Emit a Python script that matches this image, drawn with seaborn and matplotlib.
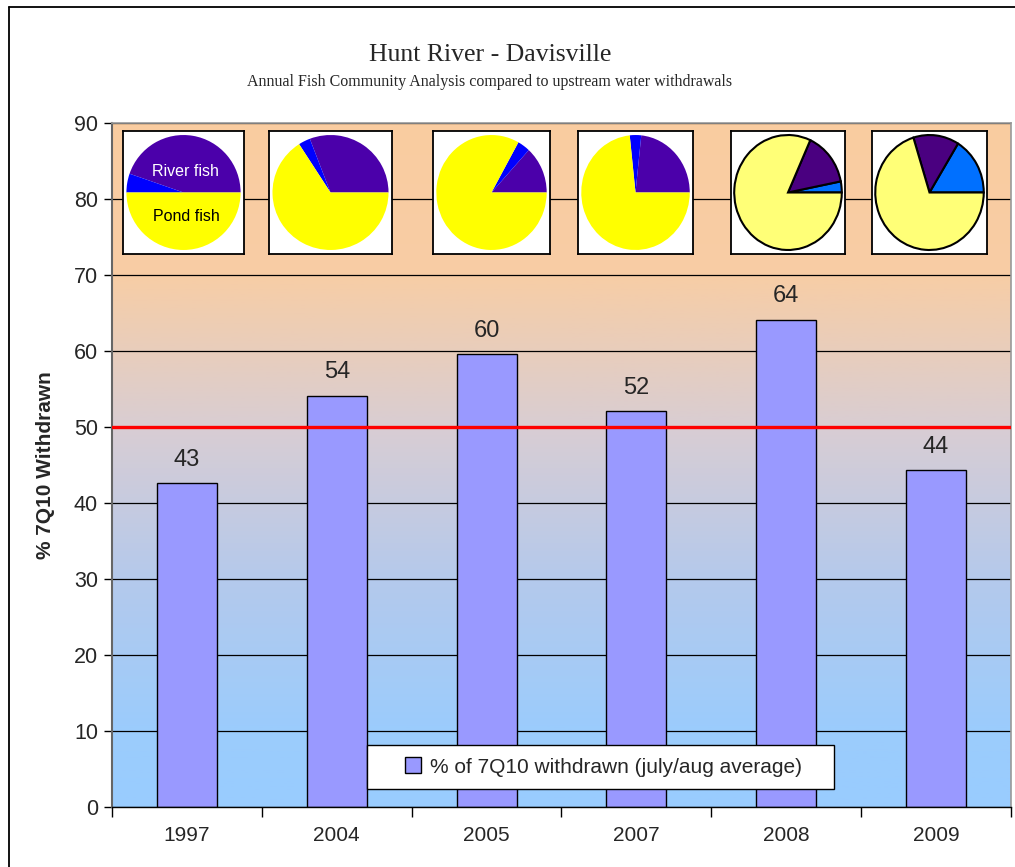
import numpy as np
import pandas as pd
import matplotlib
matplotlib.use('Agg')
import matplotlib.pyplot as plt
from matplotlib.colors import LinearSegmentedColormap
from matplotlib.lines import Line2D
from matplotlib.patches import Rectangle
import seaborn as sns

sns.set_style('white')
plt.rcParams['font.family'] = ['Liberation Sans', 'DejaVu Sans']

# bar data
years = ['1997', '2004', '2005', '2007', '2008', '2009']
withdrawn = [42.6, 54.1, 59.6, 52.1, 64.1, 44.3]
threshold = 50

# pie shares (percent): river fish, other, pond fish
river_share = [44.7, 30.8, 13.2, 23.3, 15.1, 13.6]
other_share = [5.3, 3.3, 3.7, 3.4, 3.1, 16.2]
pond_share = [50.0, 65.9, 83.1, 73.3, 81.8, 70.2]
other_first = [False, False, False, False, True, True]   # 2008/2009 pies start with the blue slice

df = pd.DataFrame({'Year': years, 'Withdrawn': withdrawn})

W, H = 1015, 867
fig = plt.figure(figsize=(W / 100, H / 100), dpi=100)
ax = fig.add_axes([112 / W, 1 - 807 / H, 899 / W, 684 / H])

# background gradient peach -> blue
grad = LinearSegmentedColormap.from_list('bg', [
    (0.0, (153 / 255, 204 / 255, 255 / 255)),
    (0.12, (156 / 255, 204 / 255, 252 / 255)),
    (0.33, (180 / 255, 201 / 255, 236 / 255)),
    (0.55, (216 / 255, 205 / 255, 212 / 255)),
    (0.78, (248 / 255, 205 / 255, 165 / 255)),
    (1.0, (250 / 255, 204 / 255, 160 / 255)),
])
ax.imshow(np.linspace(0, 1, 256).reshape(-1, 1), cmap=grad, origin='lower',
          extent=[-0.5, 5.5, 0, 90], aspect='auto', zorder=0)

sns.barplot(data=df, x='Year', y='Withdrawn', color='#9999FF', saturation=1,
            width=0.4, edgecolor='black', linewidth=1, ax=ax, zorder=2,
            label='% of 7Q10 withdrawn (july/aug average)')
ax.bar_label(ax.containers[0], fmt='%.0f', padding=9, fontsize=17)

ax.axhline(threshold, color='#FF0000', lw=2.4, zorder=3)

ax.set_xlim(-0.5, 5.5)
ax.set_ylim(0, 90)
ax.set_yticks(range(0, 91, 10))
ax.set_axisbelow(True)
ax.yaxis.grid(True, color='black', lw=0.9)
ax.xaxis.grid(False)
ax.set_xlabel('')
ax.set_ylabel('% 7Q10 Withdrawn', fontsize=15, fontweight='bold', labelpad=14)
ax.tick_params(axis='y', left=True, length=6, width=1, color='black', labelsize=15.5, pad=4)
ax.tick_params(axis='x', which='major', length=0, labelsize=15, pad=14)
ax.set_xticks(np.arange(-0.5, 6, 1), minor=True)
ax.tick_params(axis='x', which='minor', bottom=True, length=7, width=1, color='black')
for s in ['top', 'right']:
    ax.spines[s].set_color('#999999')
    ax.spines[s].set_linewidth(1.2)
ax.spines['left'].set_color('#666666')
ax.spines['left'].set_linewidth(1.5)
ax.spines['bottom'].set_color('black')
ax.spines['bottom'].set_linewidth(1)

# legend: white box behind, legend itself without frame
fig.add_artist(Rectangle((367 / W, 1 - 789 / H), 467 / W, 44 / H, transform=fig.transFigure,
                         facecolor='white', edgecolor='black', lw=1, zorder=5))
leg = ax.legend(loc='center', bbox_to_anchor=(603 / W, 1 - 767 / H),
                bbox_transform=fig.transFigure, fontsize=15, frameon=False,
                handlelength=0.8, handleheight=0.8, handletextpad=0.4,
                borderpad=0.2, borderaxespad=0)
leg.set_zorder(6)
leg.remove()
fig.add_artist(leg)

# titles
fig.text(490 / W, 1 - 55 / H, 'Hunt River - Davisville', ha='center', va='center',
         fontsize=18.5, family='Liberation Serif')
fig.text(490 / W, 1 - 82 / H, 'Annual Fish Community Analysis compared to upstream water withdrawals',
         ha='center', va='center', fontsize=11.5, family='Liberation Serif')

# pie insets
boxes = [(123, 244), (269, 392), (433, 550), (578, 693), (731, 845), (872, 987)]
for i, (x0, x1) in enumerate(boxes):
    pax = fig.add_axes([x0 / W, 1 - 254 / H, (x1 - x0) / W, 123 / H])
    if other_first[i]:
        vals = [other_share[i], river_share[i], pond_share[i]]
        cols = ['#0070FF', '#4A0080', '#FFFF77']
        wp = {'edgecolor': 'black', 'linewidth': 1.5}
    else:
        vals = [river_share[i], other_share[i], pond_share[i]]
        cols = ['#4B00AA', '#0000FF', '#FFFF00']
        wp = {'edgecolor': 'none'}
    pax.pie(vals, colors=cols, startangle=0, counterclock=True, radius=1, wedgeprops=wp)
    pax.set_frame_on(True)
    pax.set_facecolor('white')
    pax.set_aspect('auto')
    pax.set_xlim(-1.06, 1.06)
    pax.set_ylim(-1.07, 1.07)
    pax.set_xticks([])
    pax.set_yticks([])
    for s in pax.spines.values():
        s.set_visible(True)
        s.set_color('black')
        s.set_linewidth(1.3)
    if i == 0:
        pax.text(0.03, 0.37, 'River fish', color='white', ha='center', va='center', fontsize=11.5)
        pax.text(0.05, -0.42, 'Pond fish', color='black', ha='center', va='center', fontsize=11.5)

# outer figure frame
fig.add_artist(Line2D([9 / W, 9 / W], [0, 1 - 7 / H], color='black', lw=1.3))
fig.add_artist(Line2D([9 / W, 1], [1 - 7 / H, 1 - 7 / H], color='black', lw=1.3))

fig.savefig('out.png', dpi=100)
